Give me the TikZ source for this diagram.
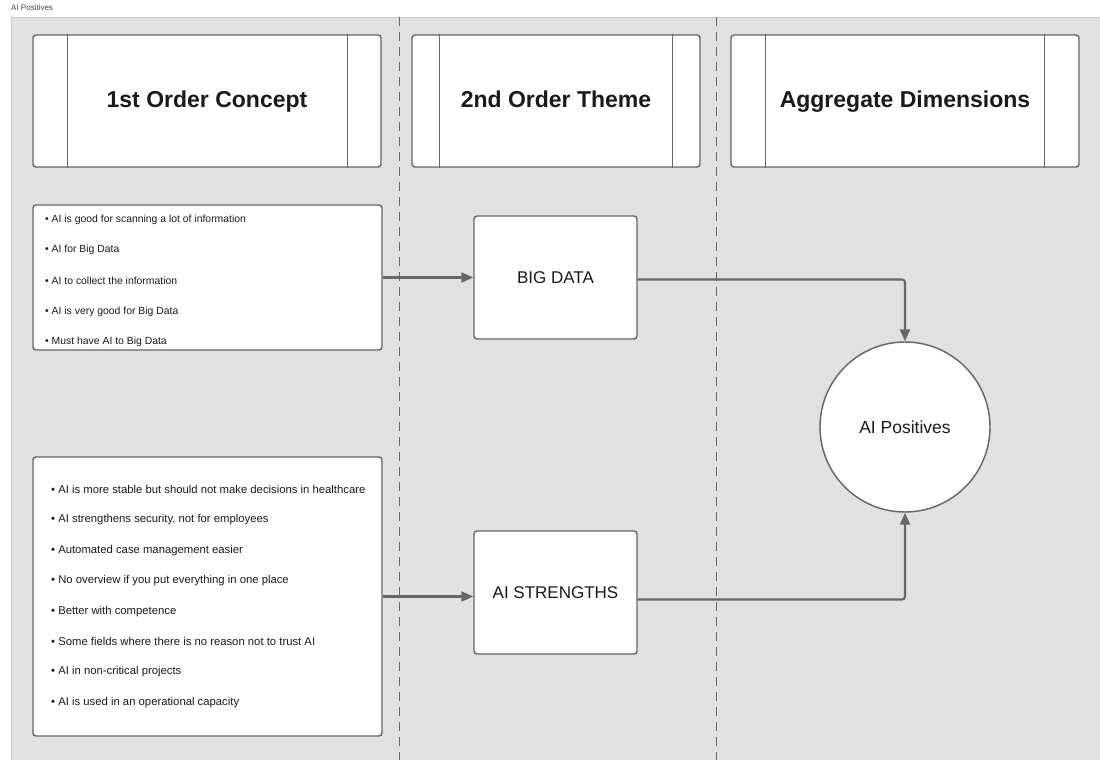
\documentclass[tikz,border=0pt]{standalone}
\usepackage{fontspec}
\setmainfont{Liberation Sans}
\usetikzlibrary{arrows.meta,calc}
\definecolor{panel}{HTML}{E1E1E1}
\definecolor{panelrule}{HTML}{C8C8C8}
\definecolor{edge}{HTML}{666666}
\definecolor{ink}{HTML}{1A1A1A}
\tikzset{
  card/.style={draw=edge, line width=1.45pt, fill=white, rounded corners=3pt, inner sep=0pt},
  header/.style={card, minimum width=348pt, minimum height=132pt, text height=17pt, text depth=5pt, font=\bfseries\fontsize{23}{26}\selectfont, text=ink},
  listbox/.style={card, minimum width=349pt},
  item/.style={anchor=west, inner sep=0pt, font=\fontsize{10.4}{12}\selectfont, text=ink},
  bigitem/.style={item, font=\fontsize{11.3}{13}\selectfont},
  theme/.style={card, minimum width=163pt, minimum height=123pt, font=\fontsize{17}{20}\selectfont, text=ink},
  dim/.style={draw=edge, line width=1.45pt, fill=white, circle, minimum size=170pt, inner sep=0pt, font=\fontsize{17.5}{20}\selectfont, text=ink},
  divider/.style={draw=edge, line width=1pt, dash pattern=on 9pt off 6pt},
  flow/.style={draw=edge, line width=2.1pt, rounded corners=3pt, -{Triangle[length=12pt,width=10pt]}},
}
\begin{document}
\begin{tikzpicture}[x=1pt,y=-1pt]
  \useasboundingbox (0,0) rectangle (1100,760);
  % canvas
  \fill[white] (0,0) rectangle (1100,760);
  \fill[panel] (11,17) rectangle (1100,760);
  \draw[panelrule, line width=0.8pt] (11,760) -- (11,17) -- (1100,17);
  \node[anchor=west, inner sep=0pt, font=\fontsize{8}{9}\selectfont, text=ink!80] (caption) at (11,8) {AI Positives};

  % column dividers
  \coordinate (d1top) at (399,17);  \coordinate (d1bot) at (399,760);
  \coordinate (d2top) at (716,17);  \coordinate (d2bot) at (716,760);
  \draw[divider] (d1top) -- (d1bot);
  \draw[divider] (d2top) -- (d2bot);

  % column headers with side bars
  \node[header] (h1) at (207,101) {1st Order Concept};
  \node[header, minimum width=288pt] (h2) at (556,101) {2nd Order Theme};
  \node[header] (h3) at (905,101) {Aggregate Dimensions};
  \foreach \h/\l/\r in {h1/35/34, h2/28/28, h3/35/35}{
    \draw[edge, line width=1.45pt] ([xshift=\l pt]\h.north west) -- ([xshift=\l pt]\h.south west);
    \draw[edge, line width=1.45pt] ([xshift=-\r pt]\h.north east) -- ([xshift=-\r pt]\h.south east);
  }

  % first-order concept lists
  \node[listbox, minimum height=145pt] (l1) at (207.5,277.5) {};
  \foreach \t [count=\i] in {AI is good for scanning a lot of information,
      AI for Big Data, AI to collect the information,
      AI is very good for Big Data, Must have AI to Big Data}{
    \node[item] (l1i\i) at (45,{219.5+30.7*(\i-1)}) {•\ \t};
  }
  \node[listbox, minimum height=279pt] (l2) at (207.5,596.5) {};
  \foreach \t [count=\i] in {AI is more stable but should not make decisions in healthcare,
      {AI strengthens security, not for employees},
      Automated case management easier,
      No overview if you put everything in one place,
      Better with competence,
      Some fields where there is no reason not to trust AI,
      AI in non-critical projects,
      AI is used in an operational capacity}{
    \node[bigitem] (l2i\i) at (51,{489.5+30.4*(\i-1)}) {•\ \t};
  }

  % second-order themes
  \node[theme] (bigdata) at (555.5,277.5) {BIG DATA};
  \node[theme] (strengths) at (555.5,592.5) {AI STRENGTHS};

  % aggregate dimension
  \node[dim] (pos) at (905,427) {AI Positives};

  % connectors
  \draw[flow] (l1.east) -- (bigdata.west);
  \draw[flow] (l2.east) -- (l2.east -| strengths.west);
  \draw[flow] ([yshift=-2pt]bigdata.east) -| (pos.north);
  \draw[flow] ([yshift=-7pt]strengths.east) -| (pos.south);
\end{tikzpicture}
\end{document}
